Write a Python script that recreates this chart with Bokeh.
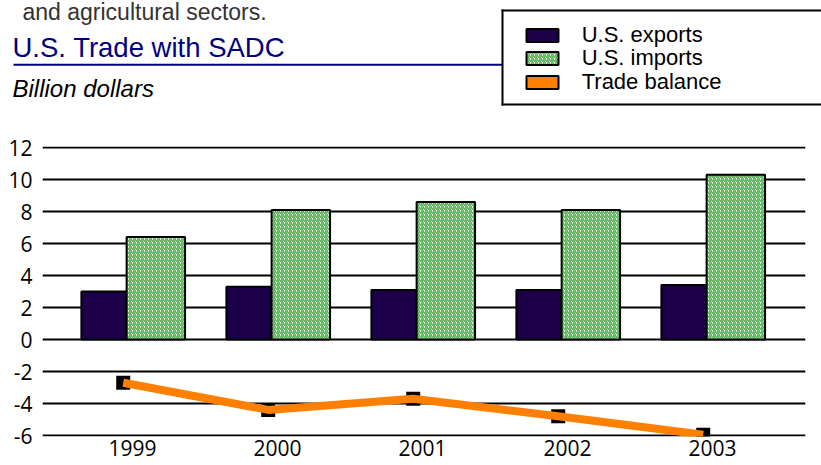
from bokeh.plotting import figure
from bokeh.models import (Range1d, FixedTicker, Label, Legend, LegendItem,
                          BoxAnnotation, ColumnDataSource)
from bokeh.embed import file_html
from bokeh.resources import INLINE

# ---------------- data ----------------
years = ["1999", "2000", "2001", "2002", "2003"]
us_exports = [3.0, 3.3, 3.1, 3.1, 3.4]
us_imports = [6.4, 8.1, 8.6, 8.1, 10.3]
trade_balance = [-2.7, -4.4, -3.7, -4.8, -5.95]
y_ticks = [-6, -4, -2, 0, 2, 4, 6, 8, 10, 12]

top_text = "and agricultural sectors."
title_text = "U.S. Trade with SADC"
subtitle_text = "Billion dollars"
series_names = ["U.S. exports", "U.S. imports", "Trade balance"]

# ---------------- layout (screen pixel plan) ----------------
W = 821
TOTAL_H = 462
HH = 110                      # header figure height (y 0..110)
HM = TOTAL_H - HH             # main figure height
FRAME_TOP, FRAME_BOTTOM = 146, 436
FRAME_LEFT, FRAME_RIGHT = 42, 805
BL = FRAME_LEFT
BR = W - FRAME_RIGHT
BT = FRAME_TOP - HH
BB = TOTAL_H - FRAME_BOTTOM
frame_w = FRAME_RIGHT - FRAME_LEFT
frame_h = FRAME_BOTTOM - FRAME_TOP

PX_X = 145.0                  # pixels per category
CAT0 = 132                    # x of first category
PX_Y = 16.0                   # pixels per unit (12 at y=147)
x_start = -(CAT0 - FRAME_LEFT) / PX_X
x_end = x_start + frame_w / PX_X
y_end = 12 + (147 - FRAME_TOP) / PX_Y
y_start = y_end - frame_h / PX_Y

EXP_OFF, EXP_W = -0.197, 0.311
IMP_OFF, IMP_W = 0.161, 0.403
BAL_OFF = -0.064

EXP_COLOR = "#1b0049"
IMP_HATCH = "#55b055"
BAL_COLOR = "#ff8000"

idx = list(range(len(years)))
src = ColumnDataSource(dict(
    xe=[i + EXP_OFF for i in idx],
    xi=[i + IMP_OFF for i in idx],
    xl=[i + BAL_OFF for i in idx],
    exports=us_exports,
    imports=us_imports,
    balance=trade_balance,
))

bar_exp_style = dict(fill_color=EXP_COLOR, line_color="black", line_width=2)
bar_imp_style = dict(fill_color="white", hatch_pattern="/", hatch_color=IMP_HATCH,
                     hatch_scale=4, hatch_weight=1.6, line_color="black",
                     line_width=2)
bar_bal_style = dict(fill_color=BAL_COLOR, line_color="black", line_width=2)

# ---------------- header figure (data units == screen pixels) ----------------
h = figure(width=W, height=HH, output_backend="svg", toolbar_location=None,
           x_range=Range1d(0, W), y_range=Range1d(0, HH),
           x_axis_location=None, y_axis_location=None,
           min_border=0, min_border_left=0, min_border_right=0,
           min_border_top=0, min_border_bottom=0)
h.outline_line_color = None
h.xgrid.visible = False
h.ygrid.visible = False
h.background_fill_color = "white"
h.border_fill_color = "white"


def hy(py):
    return HH - py


def mid(baseline, fs):
    # vertical middle of a text line whose baseline is at `baseline`
    return baseline - 0.347 * fs


def hbox(left, right, top, bottom, color):
    return BoxAnnotation(left=left, right=right, top=hy(top), bottom=hy(bottom),
                         fill_color=color, fill_alpha=1, line_color=None)


h.add_layout(Label(x=22, y=hy(mid(19, 23)), text=top_text,
                   text_font="Liberation Sans", text_font_size="23px",
                   text_color="#333333", text_baseline="middle"))
h.add_layout(Label(x=12, y=hy(mid(56.5, 27.5)), text=title_text,
                   text_font="Liberation Sans", text_font_size="27.5px",
                   text_color="#000080", text_baseline="middle"))
h.add_layout(hbox(13, 503, 63.3, 65.3, "#000080"))           # title rule
h.add_layout(Label(x=12, y=hy(mid(96.7, 24)), text=subtitle_text,
                   text_font="Liberation Sans", text_font_style="italic",
                   text_font_size="24px", text_color="black",
                   text_baseline="middle"))

# legend frame: open on the right (runs past the picture edge)
h.add_layout(hbox(502, W + 20, 10, 104, "white"))
h.add_layout(hbox(501, W + 20, 9, 11, "black"))
h.add_layout(hbox(501, W + 20, 103, 105, "black"))
h.add_layout(hbox(501, 503, 9, 105, "black"))

# invisible renderers giving the legend its swatches
sw_exp = h.vbar(x="xe", top="exports", bottom=0, width=EXP_W, source=src,
                visible=False, **bar_exp_style)
sw_imp = h.vbar(x="xi", top="imports", bottom=0, width=IMP_W, source=src,
                visible=False, **bar_imp_style)
sw_bal = h.vbar(x="xl", top="balance", bottom=0, width=0.3, source=src,
                visible=False, **bar_bal_style)

ITEM_H = 26
for name, rend, cy in zip(series_names, [sw_exp, sw_imp, sw_bal],
                          [34.7, 58.2, 82.0]):
    lg = Legend(items=[LegendItem(label=name, renderers=[rend])],
                location=(521.7, hy(cy + ITEM_H / 2)),
                padding=0, margin=0, spacing=0,
                glyph_width=40, glyph_height=16, label_standoff=20,
                label_height=16,
                label_text_font="Liberation Sans", label_text_font_size="22px",
                label_text_color="black",
                background_fill_alpha=0, border_line_alpha=0)
    h.add_layout(lg, "center")

# ---------------- main chart ----------------
p = figure(width=W, height=HM, output_backend="svg", toolbar_location=None,
           x_range=Range1d(x_start, x_end), y_range=Range1d(y_start, y_end),
           min_border_left=BL, min_border_right=BR, min_border_top=BT,
           min_border_bottom=BB)
p.outline_line_color = None
p.background_fill_color = "white"
p.border_fill_color = "white"

p.yaxis.ticker = FixedTicker(ticks=y_ticks)
p.yaxis.major_label_overrides = {t: str(t) for t in y_ticks}
p.xaxis.ticker = FixedTicker(ticks=idx)
p.xaxis.major_label_overrides = {i: y for i, y in zip(idx, years)}
for ax in (p.xaxis, p.yaxis):
    ax.axis_line_color = None
    ax.major_tick_line_color = None
    ax.minor_tick_line_color = None
    ax.major_tick_out = 0
    ax.major_tick_in = 0
    ax.major_label_text_font = "Open Sans"
    ax.major_label_text_font_size = "21px"
    ax.major_label_text_color = "black"
p.yaxis.major_label_standoff = 10
p.xaxis.major_label_standoff = 3

p.xgrid.grid_line_color = None
p.ygrid.ticker = FixedTicker(ticks=y_ticks)
p.ygrid.grid_line_color = "black"
p.ygrid.grid_line_width = 2

p.vbar(x="xe", top="exports", bottom=0, width=EXP_W, source=src, **bar_exp_style)
p.vbar(x="xi", top="imports", bottom=0, width=IMP_W, source=src, **bar_imp_style)

p.scatter(x="xl", y="balance", source=src, marker="square", size=14,
          fill_color="black", line_color=None)
p.line(x="xl", y="balance", source=src, line_color=BAL_COLOR, line_width=8)

# two stacked roots (header on top, chart below)
open("out.html", "w").write(file_html([h, p], INLINE))
